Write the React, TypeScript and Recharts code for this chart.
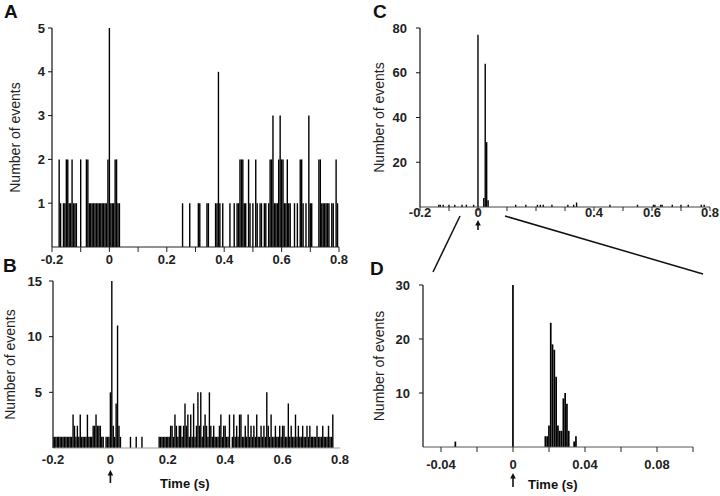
import React from 'react';
import { BarChart, Bar, XAxis, YAxis } from 'recharts';

const FONT = "'Liberation Sans', Arial, Helvetica, sans-serif";

// A: event times (s, 5 ms bins) grouped by count
const aCount1 = [-0.17, -0.16, -0.155, -0.14, -0.135, -0.125, -0.12, -0.115, -0.07, -0.065, -0.06, -0.055, -0.05, -0.045, -0.04, -0.035, -0.03, -0.025, -0.02, -0.015, -0.01, 0.005, 0.01, 0.015, 0.03, 0.035, 0.255, 0.28, 0.31, 0.315, 0.34, 0.345, 0.37, 0.375, 0.385, 0.395, 0.42, 0.435, 0.445, 0.45, 0.47, 0.475, 0.49, 0.5, 0.515, 0.525, 0.53, 0.54, 0.545, 0.555, 0.575, 0.58, 0.585, 0.61, 0.615, 0.625, 0.63, 0.645, 0.655, 0.675, 0.685, 0.7, 0.705, 0.74, 0.745, 0.75, 0.755, 0.76, 0.765, 0.775, 0.78, 0.795];
const aCount2 = [-0.175, -0.15, -0.145, -0.13, -0.1, -0.08, -0.075, -0.005, 0.02, 0.025, 0.455, 0.46, 0.465, 0.485, 0.51, 0.56, 0.565, 0.59, 0.6, 0.605, 0.62, 0.665, 0.67, 0.73, 0.735, 0.79];
const aCount3 = [0.57, 0.595, 0.695];
const aCount4 = [0.38];
const aCount5 = [0];

// B
const bCount1 = [-0.2, -0.195, -0.19, -0.185, -0.18, -0.175, -0.17, -0.165, -0.16, -0.155, -0.15, -0.145, -0.14, -0.135, -0.12, -0.11, -0.1, -0.095, -0.09, -0.085, -0.075, -0.07, -0.065, -0.03, -0.025, -0.015, -0.01, -0.005, 0.015, 0.035, 0.07, 0.09, 0.11, 0.17, 0.175, 0.18, 0.185, 0.19, 0.195, 0.2, 0.205, 0.22, 0.235, 0.25, 0.275, 0.285, 0.295, 0.32, 0.34, 0.355, 0.365, 0.37, 0.375, 0.39, 0.405, 0.41, 0.425, 0.435, 0.445, 0.46, 0.465, 0.475, 0.485, 0.495, 0.505, 0.515, 0.52, 0.53, 0.54, 0.555, 0.565, 0.57, 0.58, 0.585, 0.595, 0.61, 0.615, 0.625, 0.635, 0.64, 0.65, 0.66, 0.665, 0.675, 0.68, 0.69, 0.7, 0.705, 0.71, 0.715, 0.725, 0.73, 0.735, 0.745, 0.75, 0.755, 0.765, 0.77];
const bCount2 = [-0.125, -0.115, -0.06, -0.055, -0.045, -0.04, -0.035, 0.01, 0.03, 0.21, 0.215, 0.23, 0.24, 0.245, 0.255, 0.265, 0.3, 0.31, 0.325, 0.335, 0.35, 0.36, 0.38, 0.395, 0.4, 0.44, 0.47, 0.49, 0.5, 0.525, 0.535, 0.55, 0.575, 0.59, 0.6, 0.605, 0.63, 0.655, 0.67, 0.685, 0.695, 0.72, 0.74, 0.76];
const bCount3 = [-0.13, -0.105, -0.08, -0.05, 0.225, 0.27, 0.28, 0.33, 0.385, 0.415, 0.43, 0.45, 0.455, 0.48, 0.51, 0.56, 0.645, 0.775];
const bCount4 = [0.02, 0.26, 0.29, 0.62];
const bCount5 = [0, 0.305, 0.315, 0.345, 0.545];
const bPeakTimes = [0.005, 0.025];
const bPeakCounts = [15, 11];

// C
const cTimes = [-0.135, -0.13, -0.12, -0.1, -0.08, -0.055, -0.04, -0.015, 0, 0.02, 0.025, 0.03, 0.035, 0.13, 0.165, 0.205, 0.215, 0.225, 0.255, 0.31, 0.33, 0.34, 0.455, 0.55, 0.605, 0.61, 0.63, 0.635, 0.67, 0.7, 0.725, 0.77, 0.78];
const cCounts = [1, 1, 1, 1, 1, 1, 1, 1, 77, 4, 64, 29, 3, 1, 1, 1, 1, 1, 1, 1, 1, 2, 1, 1, 1, 1, 1, 1, 1, 1, 1, 1, 1];

// D: 1 ms bins
const dTimes = [-0.032, 0, 0.018, 0.019, 0.02, 0.021, 0.022, 0.023, 0.024, 0.025, 0.026, 0.027, 0.028, 0.029, 0.03, 0.031, 0.034, 0.035];
const dCounts = [1, 30, 2, 2, 4, 23, 19, 18, 13, 4, 3, 3, 9, 10, 8, 3, 1, 2];

const wideTicks = [-0.2, -0.1, 0, 0.1, 0.2, 0.3, 0.4, 0.5, 0.6, 0.7, 0.8];
const zoomTicks = [-0.04, -0.02, 0, 0.02, 0.04, 0.06, 0.08, 0.1];

const grouped = (groups: [number[], number][]) =>
  groups.flatMap(([times, n]) => times.map((t) => ({ t, n })));
const paired = (times: number[], counts: number[]) => times.map((t, i) => ({ t, n: counts[i] }));

const dataA = grouped([[aCount1, 1], [aCount2, 2], [aCount3, 3], [aCount4, 4], [aCount5, 5]]);
const dataB = [...grouped([[bCount1, 1], [bCount2, 2], [bCount3, 3], [bCount4, 4], [bCount5, 5]]), ...paired(bPeakTimes, bPeakCounts)];
const dataC = paired(cTimes, cCounts);
const dataD = paired(dTimes, dCounts);

const tickText = { fontSize: 13, fontWeight: 'bold', fill: '#222', fontFamily: FONT };

function TimeTick({ x, y, payload, labels, arrow }: any) {
  const v = payload.value;
  const show = labels.some((l: number) => Math.abs(l - v) < 1e-9);
  return (
    <g>
      {show && (
        <text x={x} y={y} dy="0.71em" textAnchor="middle" {...tickText}>
          {String(v)}
        </text>
      )}
      {arrow && Math.abs(v) < 1e-9 && (
        <g>
          <line x1={x} x2={x} y1={y + arrow.gap + 4} y2={y + arrow.gap + arrow.len} stroke="#111" strokeWidth={1.6} />
          <path d={`M${x - 2.8},${y + arrow.gap + 5.5} L${x},${y + arrow.gap} L${x + 2.8},${y + arrow.gap + 5.5} Z`} fill="#111" />
        </g>
      )}
    </g>
  );
}

function Panel(p: any) {
  return (
    <div style={{ position: 'absolute', left: p.left, top: p.top }}>
      <BarChart width={p.width} height={p.height} data={p.data} margin={p.margin}>
        <XAxis
          dataKey="t"
          type="number"
          domain={p.xDomain}
          ticks={p.xTicks}
          interval={0}
          allowDataOverflow
          height={p.xHeight}
          axisLine={{ stroke: p.xColor, strokeWidth: 1 }}
          tickLine={p.xTickLine ? { stroke: '#222', strokeWidth: 1 } : false}
          tickSize={p.xTickSize}
          tickMargin={p.xTickMargin}
          tick={(tp: any) => <TimeTick {...tp} labels={p.xLabels} arrow={p.arrow} />}
        />
        <YAxis
          type="number"
          domain={[0, p.yMax]}
          ticks={p.yTicks}
          interval={0}
          width={p.yWidth}
          axisLine={{ stroke: '#111', strokeWidth: 1.2 }}
          tickLine={{ stroke: '#111' }}
          tickSize={4}
          tickMargin={p.yTickMargin}
          tick={tickText}
          label={{
            value: 'Number of events',
            angle: -90,
            position: 'insideLeft',
            offset: p.labelOffset,
            style: { textAnchor: 'middle', fontSize: 14, fontFamily: FONT, fill: '#222' },
          }}
        />
        <Bar dataKey="n" fill="#000" barSize={p.barSize} isAnimationActive={false} />
      </BarChart>
    </div>
  );
}

export default function App() {
  return (
    <div style={{ position: 'absolute', left: 0, top: 0, width: 720, height: 496, background: '#fff', overflow: 'hidden' }}>
      <Panel
        data={dataA} left={0} top={0} width={360} height={275}
        margin={{ top: 28, right: 21, bottom: 0, left: 0 }}
        xDomain={[-0.2, 0.8]} xTicks={wideTicks} xLabels={[-0.2, 0, 0.2, 0.4, 0.6, 0.8]}
        xHeight={28} xColor="#222" xTickLine xTickSize={5} xTickMargin={3}
        yMax={5} yTicks={[1, 2, 3, 4, 5]} yWidth={52} yTickMargin={3}
        labelOffset={15} barSize={1.4}
      />
      <Panel
        data={dataB} left={0} top={260} width={360} height={236}
        margin={{ top: 21, right: 20, bottom: 0, left: 0 }}
        xDomain={[-0.2, 0.8]} xTicks={[-0.2, 0, 0.2, 0.4, 0.6, 0.8]} xLabels={[-0.2, 0, 0.2, 0.4, 0.6, 0.8]}
        xHeight={48} xColor="#999" xTickLine={false} xTickSize={5} xTickMargin={2}
        yMax={15} yTicks={[5, 10, 15]} yWidth={53} yTickMargin={7}
        labelOffset={10} barSize={1.4} arrow={{ gap: 15, len: 13 }}
      />
      <Panel
        data={dataC} left={360} top={0} width={360} height={235}
        margin={{ top: 28, right: 10, bottom: 0, left: 0 }}
        xDomain={[-0.2, 0.8]} xTicks={wideTicks} xLabels={[-0.2, 0, 0.4, 0.6, 0.8]}
        xHeight={28} xColor="#444" xTickLine xTickSize={4} xTickMargin={-3}
        yMax={80} yTicks={[20, 40, 60, 80]} yWidth={60} yTickMargin={9}
        labelOffset={19} barSize={1.4} arrow={{ gap: 12, len: 10 }}
      />
      <Panel
        data={dataD} left={360} top={260} width={360} height={236}
        margin={{ top: 25, right: 27, bottom: 0, left: 0 }}
        xDomain={[-0.05, 0.1]} xTicks={zoomTicks} xLabels={[-0.04, 0, 0.04, 0.08]}
        xHeight={49} xColor="#555" xTickLine xTickSize={5} xTickMargin={8}
        yMax={30} yTicks={[10, 20, 30]} yWidth={63} yTickMargin={9}
        labelOffset={19} barSize={1.7} arrow={{ gap: 13, len: 14 }}
      />
      <svg width={720} height={496} style={{ position: 'absolute', left: 0, top: 0, pointerEvents: 'none' }}>
        <g fontFamily={FONT} fontWeight="bold" fill="#111">
          <text x={4} y={18} fontSize={19}>A</text>
          <text x={3} y={272} fontSize={19}>B</text>
          <text x={373} y={18} fontSize={19}>C</text>
          <text x={370} y={275} fontSize={19}>D</text>
          <text x={160} y={488} fontSize={13}>Time (s)</text>
          <text x={528} y={489} fontSize={13}>Time (s)</text>
        </g>
        <line x1={460} y1={216} x2={433} y2={272} stroke="#111" strokeWidth={1.5} />
        <line x1={505} y1={216} x2={703} y2={274} stroke="#111" strokeWidth={1.5} />
      </svg>
    </div>
  );
}
